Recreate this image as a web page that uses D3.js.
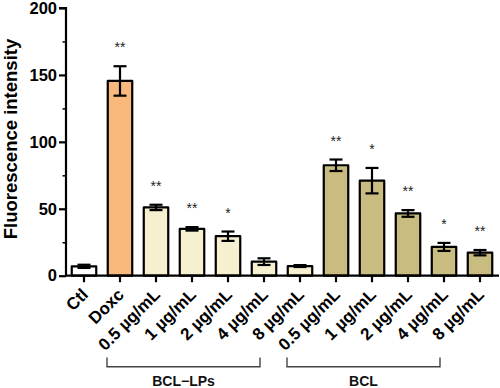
<!DOCTYPE html>
<html><head><meta charset="utf-8">
<script src="https://cdn.jsdelivr.net/npm/d3@7"></script>
<style>body{margin:0;background:#fff}svg{display:block}text{font-family:Arial,"Liberation Sans",sans-serif}</style>
</head><body><svg id="c" width="500" height="388"></svg>
<script>
const categories = ["Ctl","Doxc","0.5 µg/mL","1 µg/mL","2 µg/mL","4 µg/mL","8 µg/mL","0.5 µg/mL","1 µg/mL","2 µg/mL","4 µg/mL","8 µg/mL"];
const groupOf = ["ctl","doxc","lp","lp","lp","lp","lp","bcl","bcl","bcl","bcl","bcl"];
const values = [7, 145.5, 51, 35, 29.5, 10.5, 7.2, 82.5, 71, 46.5, 21.5, 17.2];
const errors = [1.2, 11, 2, 1.3, 3.5, 2.5, 0.7, 4.3, 9.5, 2.5, 3, 2];
const stars = ["", "**", "**", "**", "*", "", "", "**", "*", "**", "*", "**"];
const yTicks = [0, 50, 100, 150, 200];
const yMinorTicks = [25, 75, 125, 175];
const groupLabels = [{name:"BCL\u2212LPs", from:2, to:6}, {name:"BCL", from:7, to:11}];
const colors = {ctl:"#FFFFFF", doxc:"#FAB97C", lp:"#F6F0D1", bcl:"#C9BC80"};

const svg = d3.select("#c");
const x = d3.scaleBand().domain(d3.range(categories.length)).range([66, 498]).paddingInner(0.32).paddingOuter(0.16);
const y = d3.scaleLinear().domain([0, 200]).range([275.7, 8]);
const bw = x.bandwidth();

// bars
svg.append("g").selectAll("rect").data(values).join("rect")
  .attr("x", (d,i)=>x(i)).attr("y", d=>y(d))
  .attr("width", bw).attr("height", d=>y(0)-y(d))
  .attr("fill", (d,i)=>colors[groupOf[i]]).attr("stroke","#000").attr("stroke-width",2.2)
  .attr("stroke-linejoin","round");

// error bars
const eg = svg.append("g").attr("stroke","#000").attr("stroke-width",2.2);
values.forEach((v,i)=>{
  const cx = x(i)+bw/2, e = errors[i];
  eg.append("line").attr("x1",cx).attr("x2",cx).attr("y1",y(v+e)).attr("y2",y(v-e));
  eg.append("line").attr("x1",cx-6.5).attr("x2",cx+6.5).attr("y1",y(v+e)).attr("y2",y(v+e));
  eg.append("line").attr("x1",cx-6.5).attr("x2",cx+6.5).attr("y1",y(v-e)).attr("y2",y(v-e));
});

// stars
svg.append("g").selectAll("text").data(values).join("text")
  .attr("x",(d,i)=>x(i)+bw/2).attr("y",(d,i)=>y(d+errors[i])-14)
  .attr("text-anchor","middle").attr("font-size",14).attr("fill","#222")
  .text((d,i)=>stars[i]);

// y axis
const yAxis = svg.append("g").attr("transform","translate(66,0)")
  .call(d3.axisLeft(y).tickValues(yTicks).tickSize(7).tickPadding(2).tickFormat(d3.format("d")));
svg.append("g").attr("transform","translate(66,0)")
  .call(d3.axisLeft(y).tickValues(yMinorTicks).tickSize(3.5).tickFormat(""))
  .call(g=>g.select(".domain").remove())
  .selectAll("line").attr("stroke-width",1.5);
yAxis.select(".domain").attr("stroke-width",2.2).attr("d","M-7,"+y(200)+"H0V"+y(0));
yAxis.selectAll(".tick line").attr("stroke-width",2.2);
yAxis.selectAll("text").attr("font-size",16.5).attr("font-weight","bold").attr("fill","#000");

// x axis
const xAxis = svg.append("g").attr("transform","translate(0,"+y(0)+")")
  .call(d3.axisBottom(x).tickSize(6.5).tickSizeOuter(0).tickFormat(i=>categories[i]));
xAxis.select(".domain").attr("stroke-width",2.2).attr("d","M65,0H499");
xAxis.selectAll(".tick line").attr("stroke-width",2.2);
xAxis.selectAll("text").attr("font-size",17).attr("font-weight","bold").attr("fill","#000")
  .attr("text-anchor","end").attr("dy",0).attr("y",0)
  .attr("transform","translate(5,20) rotate(-45)");

// y title
svg.append("text").attr("transform","translate(17,139) rotate(-90)")
  .attr("text-anchor","middle").attr("font-size",18.5).attr("font-weight","bold").text("Fluorescence intensity");

// group brackets
const bg = svg.append("g");
groupLabels.forEach(g=>{
  const x1 = x(g.from)+bw/2-49, x2 = x(g.to)+bw/2-40;
  bg.append("path").attr("d",`M${x1},357.5V366.7H${x2}V357.5`).attr("fill","none").attr("stroke","#444").attr("stroke-width",1.4);
  bg.append("text").attr("x",(x1+x2)/2).attr("y",386).attr("text-anchor","middle")
    .attr("font-size",14).attr("font-weight","bold").attr("fill","#111").text(g.name);
});
</script></body></html>
